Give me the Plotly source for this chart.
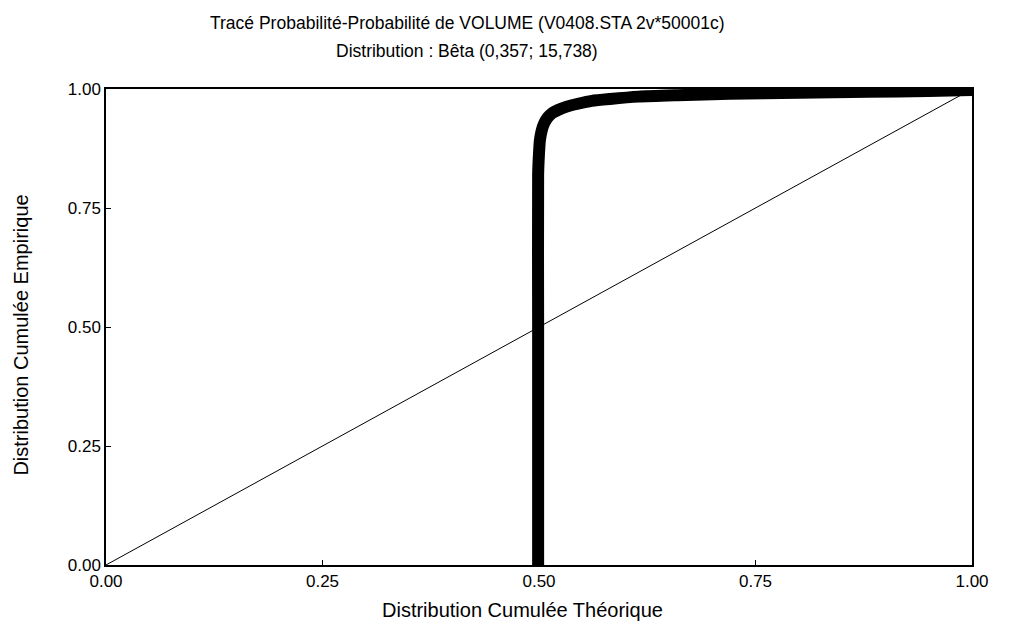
import plotly.graph_objects as go

# ---- data ----
title_line1 = "Tracé Probabilité-Probabilité de VOLUME (V0408.STA 2v*50001c)"
title_line2 = "Distribution : Bêta (0,357; 15,738)"
x_title = "Distribution Cumulée Théorique"
y_title = "Distribution Cumulée Empirique"

tick_values = [0.0, 0.25, 0.5, 0.75, 1.0]
tick_labels = ["0.00", "0.25", "0.50", "0.75", "1.00"]

# reference line (theoretical = empirical)
diag_x = [0.0, 1.0]
diag_y = [0.0, 1.0]

# P-P curve (theoretical cumulative vs empirical cumulative)
pp_theoretical = [0.499, 0.499, 0.499, 0.500, 0.501, 0.503, 0.506, 0.510, 0.515, 0.522,
                  0.532, 0.545, 0.561, 0.582, 0.615, 0.660, 0.720, 0.800, 0.880, 0.950, 1.000]
pp_empirical = [0.000, 0.500, 0.820, 0.865, 0.892, 0.912, 0.928, 0.940, 0.949, 0.956,
                0.963, 0.969, 0.975, 0.979, 0.984, 0.987, 0.990, 0.992, 0.994, 0.996, 0.998]

FONT = "Liberation Sans, Arial, sans-serif"

fig = go.Figure()
fig.add_trace(go.Scatter(x=diag_x, y=diag_y, mode="lines",
                         line=dict(color="black", width=1), showlegend=False,
                         hoverinfo="skip"))
fig.add_trace(go.Scatter(x=pp_theoretical, y=pp_empirical, mode="lines",
                         line=dict(color="black", width=12, shape="spline", smoothing=0.6),
                         showlegend=False))

OFF = 8  # page body margin
W, H = 1009 - 2 * OFF, 634 - 2 * OFF
L, T = 106 - OFF, 89 - OFF
pw, ph = 872, 476
R, B = W - L - pw, H - T - ph

def px_to_paper_x(px):
    return (px - OFF - L) / pw

def px_to_paper_y(py):
    return (T + ph - (py - OFF)) / ph

annotations = [
    dict(text=title_line1, x=px_to_paper_x(470), y=px_to_paper_y(23),
         xref="paper", yref="paper", showarrow=False, xanchor="center", yanchor="middle",
         font=dict(family=FONT, size=17.5, color="black")),
    dict(text=title_line2, x=px_to_paper_x(470), y=px_to_paper_y(51),
         xref="paper", yref="paper", showarrow=False, xanchor="center", yanchor="middle",
         font=dict(family=FONT, size=17.5, color="black")),
    dict(text=x_title, x=px_to_paper_x(525), y=px_to_paper_y(610),
         xref="paper", yref="paper", showarrow=False, xanchor="center", yanchor="middle",
         font=dict(family=FONT, size=20, color="black")),
    dict(text=y_title, x=px_to_paper_x(20), y=px_to_paper_y(335),
         xref="paper", yref="paper", showarrow=False, xanchor="center", yanchor="middle",
         textangle=-90, font=dict(family=FONT, size=20, color="black")),
]

axis_common = dict(range=[0, 1], tickvals=tick_values, ticktext=tick_labels,
                   showgrid=False, zeroline=False, showline=True, mirror=True,
                   linecolor="black", linewidth=1.5, ticks="inside", ticklen=5,
                   tickcolor="black", tickfont=dict(family=FONT, size=17, color="black"))

fig.update_layout(
    width=W, height=H,
    margin=dict(l=L, r=R, t=T, b=B, pad=0),
    paper_bgcolor="white", plot_bgcolor="white",
    xaxis=dict(**axis_common),
    yaxis=dict(**axis_common),
    annotations=annotations,
    showlegend=False,
)

fig.write_html("out.html")
